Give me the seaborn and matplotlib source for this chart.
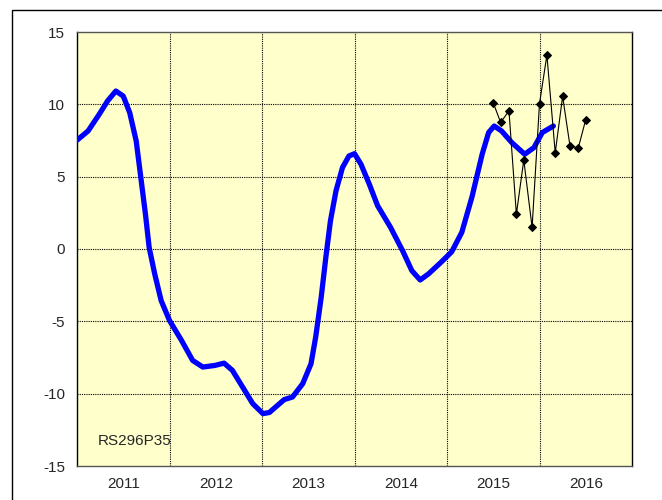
import matplotlib
matplotlib.use('Agg')
import matplotlib.pyplot as plt
import seaborn as sns
import pandas as pd
from matplotlib.patches import Rectangle

# Curva suavizada (azul)
smooth_x = [2011.00, 2011.12, 2011.24, 2011.33, 2011.42, 2011.50, 2011.57, 2011.64,
            2011.69, 2011.74, 2011.78, 2011.84, 2011.91, 2012.00, 2012.13, 2012.25,
            2012.36, 2012.49, 2012.59, 2012.68, 2012.79, 2012.90, 2013.01, 2013.08,
            2013.24, 2013.33, 2013.44, 2013.53, 2013.58, 2013.64, 2013.69, 2013.74,
            2013.80, 2013.87, 2013.94, 2014.00, 2014.07, 2014.16, 2014.25, 2014.39,
            2014.52, 2014.62, 2014.71, 2014.80, 2014.93, 2015.05, 2015.16, 2015.27,
            2015.38, 2015.45, 2015.51, 2015.59, 2015.70, 2015.84, 2015.94, 2016.03,
            2016.15]
smooth_y = [7.52, 8.16, 9.31, 10.23, 10.92, 10.57, 9.42, 7.47,
            4.94, 2.41, 0.11, -1.72, -3.57, -4.94, -6.32, -7.70,
            -8.16, -8.05, -7.89, -8.39, -9.54, -10.69, -11.38, -11.30,
            -10.41, -10.23, -9.31, -7.93, -6.10, -3.34, -0.58, 1.95,
            4.02, 5.63, 6.43, 6.59, 5.86, 4.48, 2.99, 1.49,
            -0.12, -1.50, -2.14, -1.72, -0.95, -0.20, 1.15, 3.60,
            6.55, 8.05, 8.50, 8.16, 7.36, 6.55, 7.01, 8.05,
            8.50]

# Valores mensais (preto)
monthly_x = [2015.50, 2015.58, 2015.67, 2015.75, 2015.83, 2015.92, 2016.00,
             2016.08, 2016.17, 2016.25, 2016.33, 2016.42, 2016.50]
monthly_y = [10.1, 8.75, 9.55, 2.4, 6.15, 1.5, 10.05,
             13.4, 6.65, 10.55, 7.1, 7.0, 8.95]

year_labels = ["2011", "2012", "2013", "2014", "2015", "2016"]
year_centers = [2011.5, 2012.5, 2013.5, 2014.5, 2015.5, 2016.5]
year_bounds = [2011, 2012, 2013, 2014, 2015, 2016, 2017]
y_ticks = [-15, -10, -5, 0, 5, 10, 15]

sns.set_style("white")
plt.rcParams['font.family'] = ['Liberation Sans', 'DejaVu Sans']

fig = plt.figure(figsize=(6.62, 5.0), dpi=100)
ax = fig.add_axes([77 / 662, 34 / 500, (632 - 77) / 662, (465 - 31) / 500])
ax.set_facecolor("#FFFFCC")

df_smooth = pd.DataFrame({"x": smooth_x, "y": smooth_y})
df_month = pd.DataFrame({"x": monthly_x, "y": monthly_y})

# Grade pontilhada
for yv in y_ticks[1:-1]:
    ax.axhline(yv, color="black", lw=0.8, ls=(0, (1, 1)), zorder=1)
for xv in year_bounds[1:-1]:
    ax.axvline(xv, color="black", lw=0.8, ls=(0, (1, 1)), zorder=1)

sns.lineplot(data=df_smooth, x="x", y="y", color="#0000FF", lw=3.8,
             ax=ax, zorder=3, sort=False, solid_joinstyle="round",
             solid_capstyle="round")
sns.lineplot(data=df_month, x="x", y="y", color="black", lw=0.8,
             marker="D", markersize=3.8, markeredgecolor="black",
             ax=ax, zorder=4, sort=False)

ax.set_xlim(2011, 2017)
ax.set_ylim(-15, 15)
ax.set_yticks(y_ticks)
ax.set_yticklabels([str(v) for v in y_ticks], fontsize=11)
ax.set_xticks(year_bounds)
ax.set_xticklabels([])
ax.set_xticks(year_centers, minor=True)
ax.set_xticklabels(year_labels, minor=True, fontsize=11)
ax.tick_params(axis="x", which="minor", length=0, pad=8)
ax.tick_params(axis="x", which="major", length=5, direction="out", color="black")
ax.tick_params(axis="y", length=5, direction="out", color="black")
ax.set_xlabel("")
ax.set_ylabel("")

for side in ["left", "right", "top", "bottom"]:
    ax.spines[side].set_color("black")
    ax.spines[side].set_linewidth(1.0)
ax.spines["top"].set_color("#555555")
ax.spines["bottom"].set_color("#555555")

ax.text(2011.22, -13.3, "RS296P35", fontsize=11, ha="left", va="center")

# Moldura da figura
fig.patches.append(Rectangle((12 / 662, -0.01), 1.0, 490 / 500 + 0.01,
                             transform=fig.transFigure, fill=False,
                             edgecolor="black", lw=1.0))

plt.savefig("out.png", dpi=100)
plt.close()
